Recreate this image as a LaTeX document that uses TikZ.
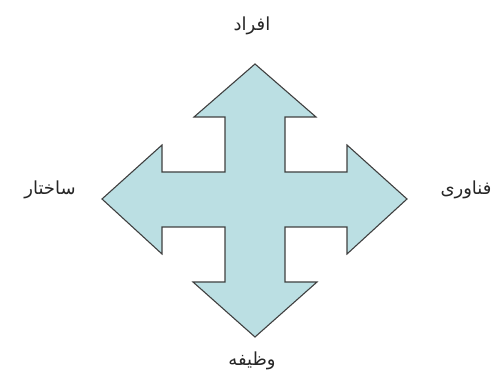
\documentclass[tikz,border=0pt]{standalone}
\usepackage{fontspec}
\newfontfamily\arabicfont[Script=Arabic]{DejaVu Sans}
\TeXXeTstate=1
\begin{document}
\begin{tikzpicture}[x=1pt,y=-1pt,
  lbl/.style={font=\arabicfont\fontsize{18}{20}\selectfont, inner sep=0pt, text=black!85},
  crossarrow/.style={fill=arrowfill, draw=black!75, line width=1.1pt, line join=miter}]
\definecolor{arrowfill}{HTML}{BBDFE3}
\useasboundingbox (0,0) rectangle (501,382);
\draw[crossarrow] (255,64) -- (316,117) -- (285,117) -- (285,172) -- (347,172) -- (347,145)
  -- (407,199) -- (347,254) -- (347,227) -- (285,227) -- (285,282) -- (317,282)
  -- (255,337) -- (193,282) -- (225,282) -- (225,227) -- (162,227) -- (162,254)
  -- (102,199) -- (162,145) -- (162,172) -- (225,172) -- (225,117) -- (194,117) -- cycle;
\node[lbl] (top) at (252,26) {\beginR افراد\endR};
\node[lbl] (left) at (50,190) {\beginR ساختار\endR};
\node[lbl] (right) at (466,190) {\beginR فناوری\endR};
\node[lbl] (bottom) at (252,361) {\beginR وظیفه\endR};
\end{tikzpicture}
\end{document}
